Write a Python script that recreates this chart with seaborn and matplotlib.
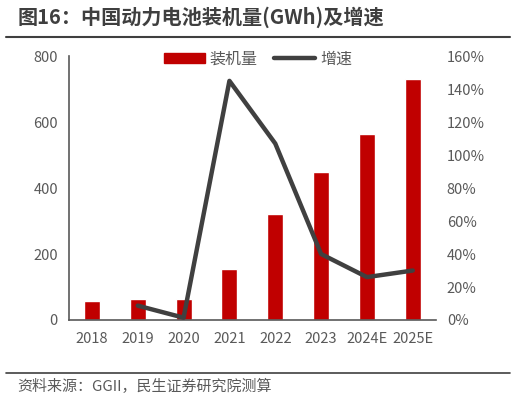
import pandas as pd
import matplotlib.pyplot as plt
import seaborn as sns
from matplotlib.lines import Line2D
from matplotlib.patches import Patch

# 数据
years = ["2018", "2019", "2020", "2021", "2022", "2023", "2024E", "2025E"]
installed = [58, 63, 64, 155, 322, 449, 565, 732]
growth = [None, 8.7, 1.4, 145, 107, 40, 26, 30]

sns.set_style("white")
plt.rcParams["font.family"] = ["Noto Sans CJK SC", "DejaVu Sans"]

df = pd.DataFrame({"年份": years, "装机量": installed, "增速": growth})
df["x"] = range(len(years))

gray = "#595959"
fig = plt.figure(figsize=(5.16, 4.01), dpi=100)
ax = fig.add_axes([0.1337, 0.202, 0.7107, 0.658])

sns.barplot(data=df, x="年份", y="装机量", color="#C00000", width=0.35,
            saturation=1, ax=ax)
ax.set_ylim(0, 800)
ax.set_yticks([0, 200, 400, 600, 800])
ax.set_xlim(-0.5, 7.5)
ax.set_xlabel("")
ax.set_ylabel("")

ax2 = ax.twinx()
sns.lineplot(data=df.dropna(), x="x", y="增速", color="#404040", linewidth=3.2,
             ax=ax2)
ax2.set_ylim(0, 160)
ax2.set_yticks(range(0, 161, 20))
ax2.set_yticklabels([f"{v}%" for v in range(0, 161, 20)])
ax2.set_xlim(-0.5, 7.5)
ax2.set_ylabel("")

for a in (ax, ax2):
    a.tick_params(length=0, colors=gray, labelsize=10.5)
    for s in a.spines.values():
        s.set_visible(False)
ax.spines["left"].set_visible(True)
ax.spines["bottom"].set_visible(True)
ax.spines["left"].set_color(gray)
ax.spines["bottom"].set_color(gray)
ax.spines["left"].set_linewidth(1.2)
ax.spines["bottom"].set_linewidth(1.2)
ax.tick_params(axis="x", pad=9)
ax.tick_params(axis="y", pad=8)
ax2.tick_params(axis="y", pad=8)

handles = [Patch(color="#C00000"), Line2D([], [], color="#404040", linewidth=3.2)]
ax2.legend(handles, ["装机量", "增速"], loc="center", ncol=2, frameon=False,
           bbox_to_anchor=(0.515, 0.99), fontsize=11.5, labelcolor=gray,
           handlelength=2.6, handleheight=0.6, columnspacing=1.0, handletextpad=0.3)

# 标题和来源
fig.text(0.035, 0.957, "图16：中国动力电池装机量(GWh)及增速", fontsize=14.5,
         fontweight="bold", color="#3f3f3f", va="center")
fig.add_artist(Line2D([0.012, 0.988], [0.908, 0.908], color="#3f3f3f", linewidth=1.5))
fig.add_artist(Line2D([0.012, 0.988], [0.07, 0.07], color="#3f3f3f", linewidth=1.2))
fig.text(0.033, 0.035, "资料来源：GGII，民生证券研究院测算", fontsize=10.8,
         color=gray, va="center")

fig.savefig("out.png", dpi=100)
